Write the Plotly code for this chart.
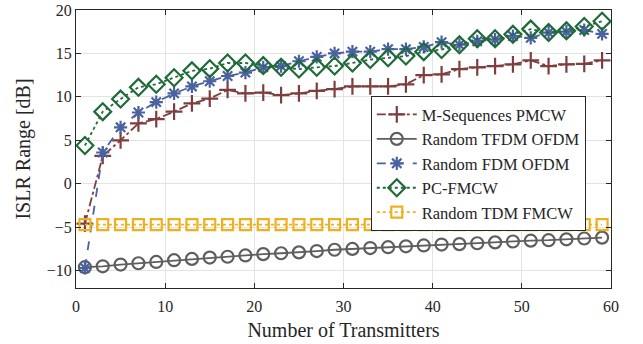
import plotly.graph_objects as go

x = list(range(1, 60, 2))

mseq = [-4.6, 3.2, 5.0, 6.95, 7.45, 8.3, 9.25, 9.8, 10.8, 10.4, 10.5, 10.2, 10.4, 10.7, 10.9,
        11.2, 11.2, 11.2, 11.45, 12.5, 12.6, 13.2, 13.4, 13.55, 13.75, 14.2, 13.55, 13.75, 13.8, 14.2]
tfdm = [-9.6, -9.5, -9.3, -9.15, -9.0, -8.8, -8.65, -8.5, -8.4, -8.25, -8.1, -8.0, -7.9, -7.75, -7.6,
        -7.5, -7.4, -7.3, -7.2, -7.1, -7.0, -6.95, -6.85, -6.75, -6.65, -6.55, -6.5, -6.4, -6.3, -6.2]
fdm = [-9.7, 3.6, 6.5, 8.2, 9.4, 10.4, 11.2, 11.8, 12.4, 12.8, 13.4, 13.55, 14.1, 14.6, 15.0,
       15.2, 15.2, 15.5, 15.5, 15.75, 16.3, 16.0, 16.4, 16.6, 17.0, 16.8, 17.4, 17.5, 17.7, 17.25]
pcfmcw = [4.4, 8.3, 9.75, 11.1, 11.45, 12.2, 13.0, 13.25, 13.9, 13.9, 13.6, 13.4, 13.2, 13.4, 13.55,
          13.9, 14.3, 14.5, 14.7, 15.2, 15.45, 16.0, 16.7, 16.7, 17.2, 17.8, 17.4, 17.6, 18.1, 18.7]
tdm = [-4.7] * 30

names = ["M-Sequences PMCW", "Random TFDM OFDM", "Random FDM OFDM", "PC-FMCW", "Random TDM FMCW"]
colors = ["#7E3E3E", "#5E5E5E", "#4A62A0", "#1F6A38", "#EDB120"]
dashes = ["dashdot", "solid", "dash", "dot", "dot"]
symbols = ["cross-thin-open", "circle-open", "asterisk-open", "diamond-open", "square-open"]
sizes = [12, 12, 11, 13, 11]
series = [mseq, tfdm, fdm, pcfmcw, tdm]

fig = go.Figure()
for nm, ys, c, d, s, sz in zip(names, series, colors, dashes, symbols, sizes):
    fig.add_trace(go.Scatter(
        x=x, y=ys, name=nm, mode="lines+markers",
        line=dict(color=c, width=1.8, dash=d),
        marker=dict(symbol=s, size=sz, color=c, line=dict(color=c, width=2.2)),
    ))

font = "'Liberation Serif', 'Times New Roman', serif"
fig.update_layout(
    width=643, height=344,
    margin=dict(l=76, r=32, t=10, b=56, autoexpand=False),
    paper_bgcolor="white", plot_bgcolor="white",
    font=dict(family=font, size=16, color="#262626"),
    showlegend=True,
    legend=dict(x=0.551, y=0.69, xanchor="left", yanchor="top",
                bordercolor="#262626", borderwidth=1, bgcolor="white",
                font=dict(family=font, size=16.5, color="#262626"),
                tracegroupgap=0, itemwidth=40),
)
fig.update_xaxes(range=[0, 60], tickvals=[0, 10, 20, 30, 40, 50, 60],
                 showgrid=True, gridcolor="#E3E3E3", gridwidth=1, automargin=False,
                 ticks="inside", ticklen=5, tickcolor="#262626", ticklabelstandoff=4,
                 showline=True, linecolor="#262626", linewidth=1.2, mirror="ticks",
                 zeroline=False, tickfont=dict(family=font, size=16),
                 title=dict(text="Number of Transmitters", font=dict(family=font, size=20), standoff=8))
fig.update_yaxes(range=[-12, 20], tickvals=[-10, -5, 0, 5, 10, 15, 20],
                 showgrid=True, gridcolor="#E3E3E3", gridwidth=1, automargin=False,
                 ticks="inside", ticklen=5, tickcolor="#262626",
                 showline=True, linecolor="#262626", linewidth=1.2, mirror="ticks",
                 zeroline=False, tickfont=dict(family=font, size=16),
                 title=dict(text="ISLR Range [dB]", font=dict(family=font, size=20), standoff=10))

fig.write_html("out.html", config={"displayModeBar": False},
               post_script="document.body.style.margin='0px';document.body.style.overflow='hidden';")
